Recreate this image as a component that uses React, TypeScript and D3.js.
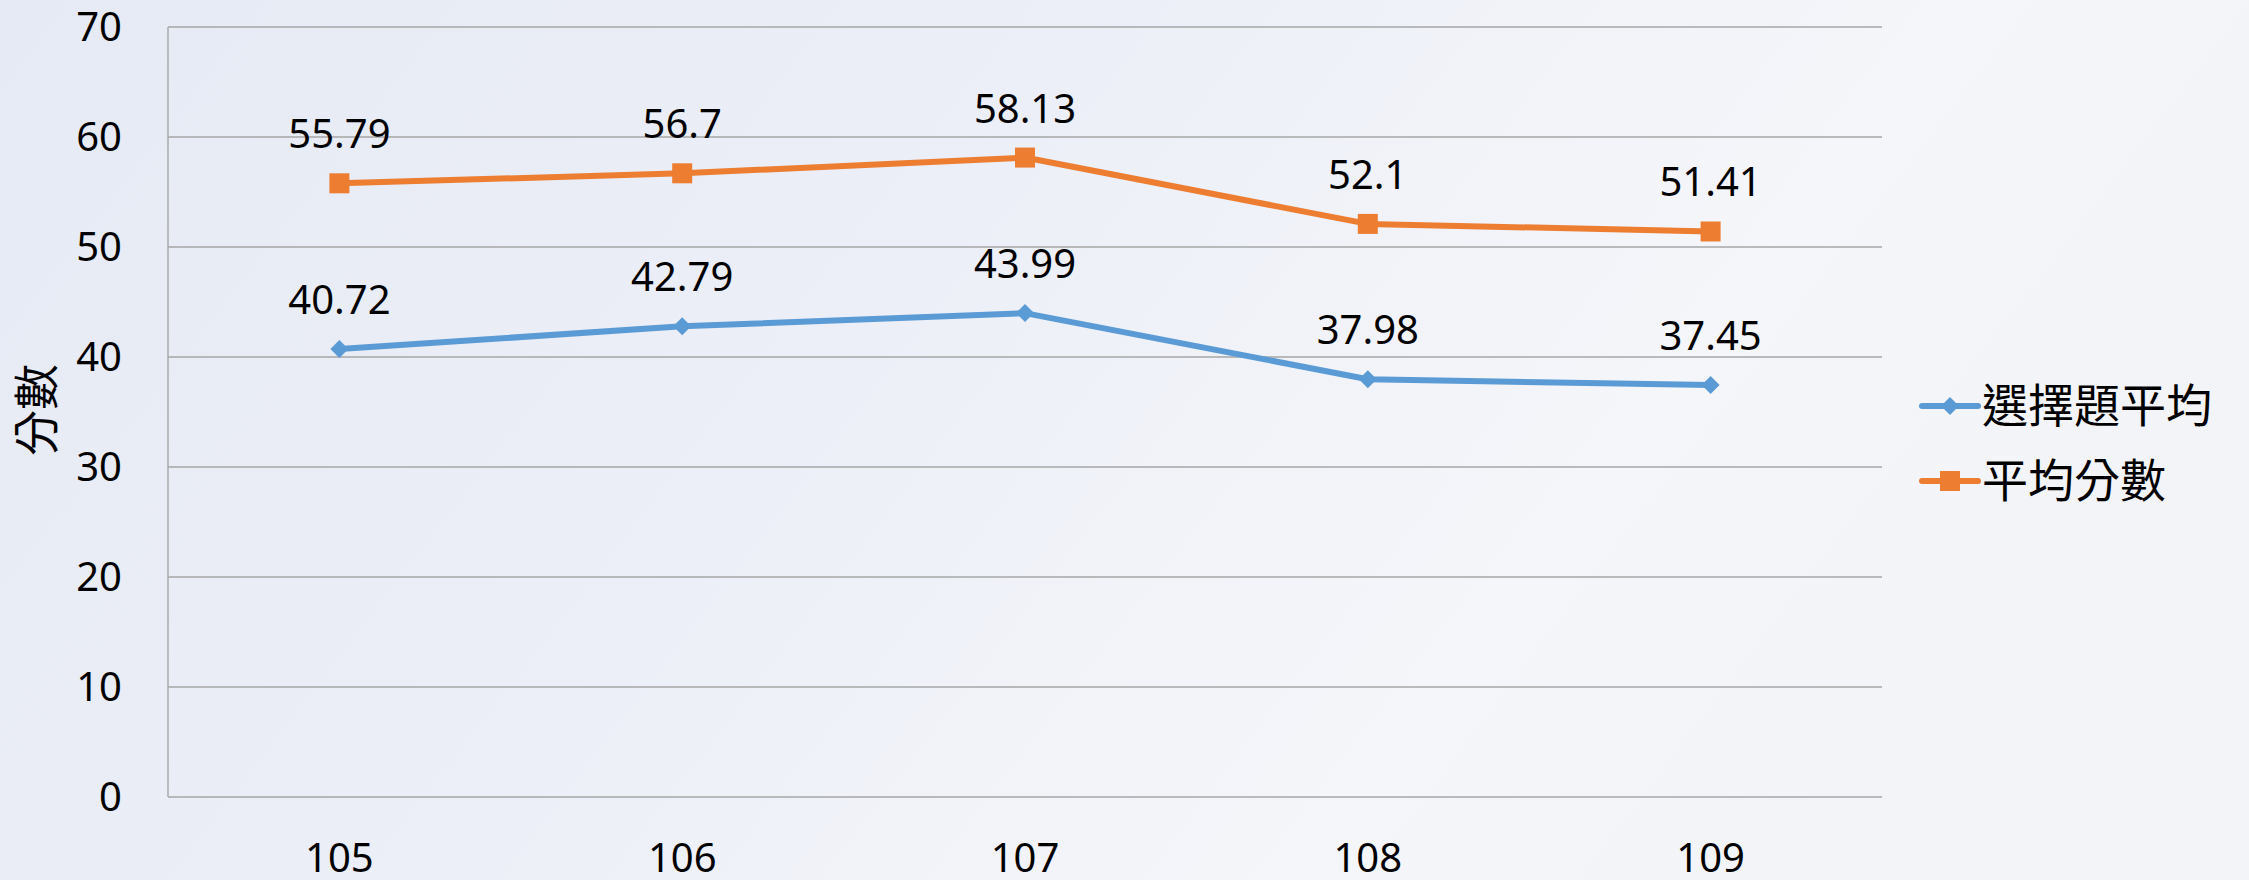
import React from "react";
import * as d3 from "d3";

const categories = ["105", "106", "107", "108", "109"];
const choiceAvg = [40.72, 42.79, 43.99, 37.98, 37.45];
const totalAvg = [55.79, 56.7, 58.13, 52.1, 51.41];
const yTicks = [0, 10, 20, 30, 40, 50, 60, 70];
const seriesNames = ["選擇題平均", "平均分數"];
const yTitle = "分數";

const W = 2249;
const H = 880;
const M = { left: 168, right: 1882, top: 27, bottom: 797 };

export default function App() {
  const x = d3.scaleBand<string>().domain(categories).range([M.left, M.right]).padding(0);
  const y = d3.scaleLinear().domain([0, 70]).range([M.bottom, M.top]);
  const cx = (c: string) => (x(c) as number) + x.bandwidth() / 2;
  const line = d3
    .line<number>()
    .x((_, i) => cx(categories[i]))
    .y((d) => y(d));

  const numFont = "'Noto Sans', 'Open Sans', sans-serif";
  const cjkFont = "'Noto Sans CJK TC', 'Noto Sans CJK SC', sans-serif";
  const blue = "#5B9BD5";
  const orange = "#ED7D31";
  const grid = "#A6A6A6";

  const diamond = (px: number, py: number, r: number) =>
    `M${px},${py - r}L${px + r},${py}L${px},${py + r}L${px - r},${py}Z`;

  return (
    <svg
      width={W}
      height={H}
      style={{ position: "absolute", left: 0, top: 0, display: "block" }}
    >
      <defs>
        <linearGradient id="bg" x1="0" y1="0" x2="1" y2="0.3">
          <stop offset="0" stopColor="#e6eaf4" />
          <stop offset="0.45" stopColor="#eceff7" />
          <stop offset="0.8" stopColor="#f5f6fa" />
          <stop offset="1" stopColor="#f3f4f8" />
        </linearGradient>
        <radialGradient id="blot" cx="0.5" cy="0.5" r="0.5">
          <stop offset="0" stopColor="#d6dcea" stopOpacity="0.5" />
          <stop offset="1" stopColor="#d6dcea" stopOpacity="0" />
        </radialGradient>
      </defs>
      <rect x={0} y={0} width={W} height={H} fill="url(#bg)" />

      {/* gridlines */}
      {yTicks.map((t) => (
        <line
          key={t}
          x1={M.left}
          x2={M.right}
          y1={y(t)}
          y2={y(t)}
          stroke={grid}
          strokeWidth={1.4}
        />
      ))}
      <line x1={M.left} x2={M.left} y1={M.top} y2={M.bottom} stroke={grid} strokeWidth={1.4} />

      {/* y tick labels */}
      {yTicks.map((t) => (
        <text
          key={t}
          x={122}
          y={y(t) + 14}
          textAnchor="end"
          fontFamily={numFont}
          fontSize={40}
          fill="#000"
        >
          {t}
        </text>
      ))}

      {/* x tick labels */}
      {categories.map((c) => (
        <text
          key={c}
          x={cx(c)}
          y={872}
          textAnchor="middle"
          fontFamily={numFont}
          fontSize={40}
          fill="#000"
        >
          {c}
        </text>
      ))}

      {/* y title */}
      <text
        transform={`translate(53,410) rotate(-90)`}
        textAnchor="middle"
        fontFamily={cjkFont}
        fontSize={46}
        fill="#000"
      >
        {yTitle}
      </text>

      {/* lines */}
      <path d={line(choiceAvg) || ""} fill="none" stroke={blue} strokeWidth={6} strokeLinejoin="round" />
      <path d={line(totalAvg) || ""} fill="none" stroke={orange} strokeWidth={6} strokeLinejoin="round" />

      {choiceAvg.map((v, i) => (
        <path key={"d" + i} d={diamond(cx(categories[i]), y(v), 9)} fill={blue} />
      ))}
      {totalAvg.map((v, i) => (
        <rect
          key={"s" + i}
          x={cx(categories[i]) - 10}
          y={y(v) - 10}
          width={20}
          height={20}
          fill={orange}
        />
      ))}

      {/* data labels */}
      {choiceAvg.map((v, i) => (
        <text
          key={"lb" + i}
          x={cx(categories[i])}
          y={y(v) - 35}
          textAnchor="middle"
          fontFamily={numFont}
          fontSize={40}
          fill="#000"
        >
          {v}
        </text>
      ))}
      {totalAvg.map((v, i) => (
        <text
          key={"lo" + i}
          x={cx(categories[i])}
          y={y(v) - 35}
          textAnchor="middle"
          fontFamily={numFont}
          fontSize={40}
          fill="#000"
        >
          {v}
        </text>
      ))}

      {/* legend */}
      {seriesNames.map((name, i) => {
        const ly = i === 0 ? 406 : 481;
        const color = i === 0 ? blue : orange;
        return (
          <g key={name}>
            <line x1={1922} x2={1978} y1={ly} y2={ly} stroke={color} strokeWidth={6} strokeLinecap="round" />
            {i === 0 ? (
              <path d={diamond(1950, ly, 9)} fill={color} />
            ) : (
              <rect x={1940} y={ly - 10} width={20} height={20} fill={color} />
            )}
            <text
              x={1982}
              y={ly + 16}
              fontFamily={cjkFont}
              fontSize={46}
              fill="#000"
            >
              {name}
            </text>
          </g>
        );
      })}
    </svg>
  );
}
